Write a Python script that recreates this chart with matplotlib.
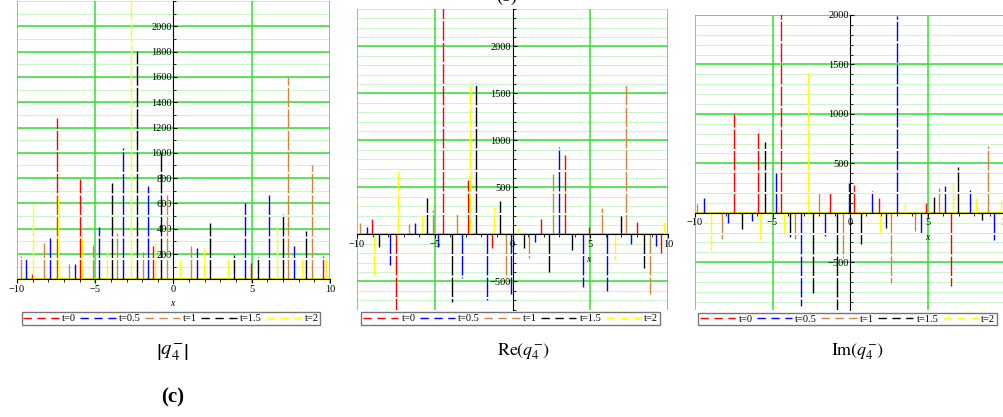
import numpy as np
import matplotlib
matplotlib.use("Agg")
import matplotlib.pyplot as plt
from matplotlib.ticker import FixedLocator, MultipleLocator

plt.rcParams['font.family'] = ['Liberation Serif', 'DejaVu Serif']
plt.rcParams['mathtext.fontset'] = 'stix'

labels = ['t=0', 't=0.5', 't=1', 't=1.5', 't=2']
colors = ['#ff0000', '#0000ff', '#cd853f', '#000000', '#ffff00']

# |q4-| : spikes (x, height)
abs_t0 = [(-9.06, 40), (-7.47, 1275), (-5.97, 795), (-1.29, 265), (4.93, 130), (9.57, 185)]
abs_t05 = [(-9.42, 165), (-7.9, 330), (-6.3, 125), (-4.76, 415), (-3.2, 1035), (-1.61, 740),
           (1.48, 245), (4.59, 605), (6.12, 665), (7.7, 265)]
abs_t1 = [(-9.77, 185), (-8.25, 290), (-6.7, 125), (-5.12, 275), (-3.59, 370), (-1.97, 220),
          (-0.44, 680), (1.1, 265), (7.34, 1600), (8.87, 905)]
abs_t15 = [(-3.95, 765), (-2.35, 1805), (-0.8, 1000), (2.33, 445), (3.89, 195), (5.42, 180),
           (6.98, 515), (8.47, 385)]
abs_t2 = [(-8.96, 595), (-7.36, 670), (-5.87, 350), (-4.27, 235), (-2.74, 2250), (-1.18, 290),
          (0.42, 180), (1.93, 245), (3.5, 160), (6.59, 420), (8.19, 160), (9.72, 180)]

# Re(q4-)
re_t0 = [(-9.04, 160), (-7.48, -850), (-4.44, 2500), (-2.83, 578), (-1.29, -150), (1.81, 165),
         (3.37, 840), (4.93, 75), (8.0, 135), (9.57, -200)]
re_t05 = [(-9.36, 80), (-7.86, -325), (-6.3, 117), (-4.76, -130), (-3.22, -470), (-1.61, -700),
          (-0.1, -630), (1.44, -80), (3.0, 925), (4.55, -560), (6.1, -600), (7.64, -100), (9.25, -125)]
re_t1 = [(-9.79, 117), (-6.68, 110), (-5.14, 260), (-3.58, 230), (-0.44, -505), (1.08, -255),
         (2.62, 640), (5.76, 280), (7.28, 1600), (8.87, -630)]
re_t15 = [(-8.57, -130), (-5.51, 385), (-3.9, -725), (-2.36, 1613), (-0.8, 350), (0.74, -150),
          (2.34, -400), (3.84, -165), (6.96, 190), (8.48, -360)]
re_t2 = [(-8.93, -450), (-7.39, 680), (-5.83, 230), (-2.71, 1617), (-1.19, 295), (0.37, 65),
         (6.57, -275), (9.72, 135)]

# Im(q4-)
im_t0 = [(-7.5, 996), (-5.93, 803), (-4.43, 2100), (-1.31, 197), (0.27, 282), (1.86, 146),
         (4.93, 95), (6.49, -738)]
im_t05 = [(-9.42, 146), (-7.87, -100), (-6.3, -85), (-4.75, 401), (-3.18, -942), (-1.63, -238),
          (-0.07, 306), (1.45, 221), (3.06, 1990), (4.57, -211), (6.12, 275), (7.71, 231), (9.28, -279)]
im_t1 = [(-9.87, 88), (-8.24, -262), (-3.57, -262), (-1.99, 204), (-0.45, -455), (2.63, -714),
         (4.22, -184), (5.76, 248), (8.92, 673)]
im_t15 = [(-7.0, -160), (-5.48, 714), (-3.89, -245), (-2.38, -816), (-0.81, -1100), (0.74, -313),
          (2.31, -150), (5.43, 156), (6.98, 459), (8.53, -75)]
im_t2 = [(-8.95, -374), (-5.83, -279), (-4.25, -228), (-2.7, 1415), (1.96, -228), (3.53, 95),
         (6.66, 306), (8.16, 146), (9.74, 129)]

W, H = 1004, 417
fig = plt.figure(figsize=(W / 100, H / 100), dpi=100)


def px_axes(left, right, top, bottom):
    return fig.add_axes([left / W, 1 - bottom / H, (right - left) / W, (bottom - top) / H])


def panel(ax, series, ylim, ylabels, xlab_pos):
    ax.set_xlim(-10, 10)
    ax.set_ylim(*ylim)
    for v in np.arange(-1000, 2600, 100):
        ax.axhline(v, color='#cdf5cd', lw=0.8, zorder=0)
    for v in ylabels:
        ax.axhline(v, color='#33e033', lw=1.1, zorder=0)
    for v in [-10, -5, 5, 10]:
        ax.axvline(v, color='#33e033', lw=1.1, zorder=0)
    for s, c in zip(series, colors):
        xs = [p[0] for p in s]
        hs = [p[1] for p in s]
        ax.vlines(xs, 0, hs, colors=c, lw=1.0, linestyles=(0, (14, 1.5)), zorder=2)
    for c in colors:
        ax.plot([], [], color=c, lw=1.0, ls=(0, (6, 4)))
    ax.axhline(0, color='#d8d800', lw=1.4, zorder=1.5)
    for sp in ['top', 'right']:
        ax.spines[sp].set_visible(False)
    ax.spines['left'].set_position(('data', 0))
    ax.spines['bottom'].set_position(('data', 0))
    ax.spines['left'].set_linewidth(0.8)
    ax.spines['bottom'].set_linewidth(0.8)
    ax.yaxis.set_major_locator(FixedLocator(ylabels))
    ax.yaxis.set_minor_locator(MultipleLocator(100))
    ax.xaxis.set_major_locator(FixedLocator([-10, -5, 0, 5, 10]))
    ax.xaxis.set_minor_locator(MultipleLocator(1))
    ax.tick_params(axis='y', which='both', direction='in', length=3, labelsize=7.5, pad=1)
    ax.tick_params(axis='x', which='both', direction='out', length=3, labelsize=7.5, pad=1)
    ax.tick_params(which='minor', length=2)
    ax.set_xticklabels(['\u221210', '\u22125', '0', '5', '10'])
    ax.set_yticklabels([str(v).replace('-', '\u2212') for v in ylabels])
    ax.patch.set_alpha(0)
    fig.text(xlab_pos[0] / W, 1 - xlab_pos[1] / H, 'x', style='italic', fontsize=7,
             ha='center', va='center')


ax1 = px_axes(17, 330, 1, 282.5)
panel(ax1, [abs_t0, abs_t05, abs_t1, abs_t15, abs_t2], (-25, 2200),
      [200, 400, 600, 800, 1000, 1200, 1400, 1600, 1800, 2000], (172, 304))

ax2 = px_axes(357, 668, 8.7, 309.5)
panel(ax2, [re_t0, re_t05, re_t1, re_t15, re_t2], (-800, 2400),
      [-500, 500, 1000, 1500, 2000], (588, 260))

ax3 = px_axes(695, 1005, 15, 309.7)
panel(ax3, [im_t0, im_t05, im_t1, im_t15, im_t2], (-980, 2000),
      [-500, 500, 1000, 1500, 2000], (927, 238))

for ax, (l, r, t, b) in zip([ax1, ax2, ax3],
                            [(26, 316, 311, 326), (366, 655, 311, 326), (703, 992, 310, 328)]):
    leg = fig.legend(ax.get_lines()[-6:-1], labels, ncol=5, fontsize=7.5,
                     loc='center', bbox_to_anchor=((l + r) / 2 / W, 1 - (t + b) / 2 / H),
                     frameon=True, fancybox=False, handlelength=3.4, handletextpad=0.3,
                     columnspacing=0.4, borderpad=0.15, borderaxespad=0)
    leg.get_frame().set_edgecolor('#555555')
    leg.get_frame().set_linewidth(1.0)

fig.text(172 / W, 1 - 352 / H, r'$\left|q_4^{-}\right|$', fontsize=15, ha='center', va='center')
fig.text(523 / W, 1 - 352 / H, r'$\mathrm{Re}(q_4^{-})$', fontsize=13, ha='center', va='center')
fig.text(857 / W, 1 - 352 / H, r'$\mathrm{Im}(q_4^{-})$', fontsize=13, ha='center', va='center')
fig.text(173 / W, 1 - 397 / H, '(c)', fontsize=15, fontweight='bold', ha='center', va='center')
fig.text(507 / W, 1 + 4 / H, '(b)', fontsize=13, ha='center', va='center')

fig.savefig('out.png', dpi=100)
